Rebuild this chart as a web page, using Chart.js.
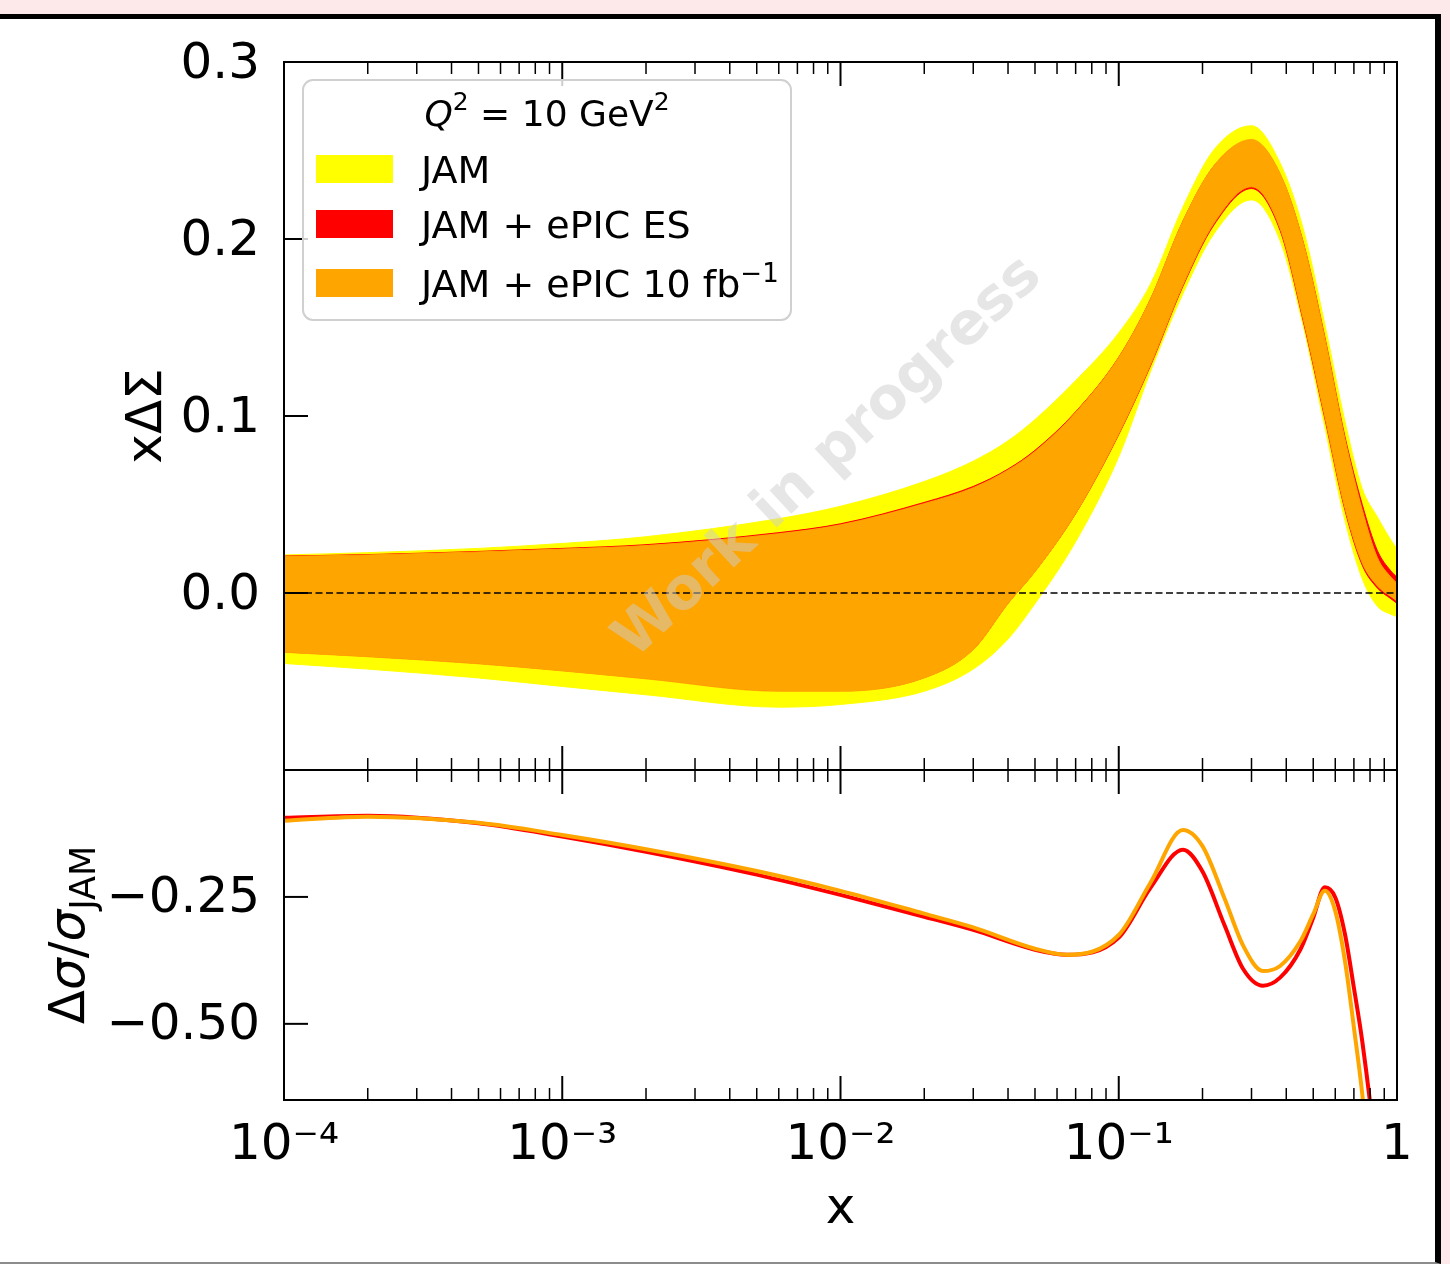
<!DOCTYPE html>
<html>
<head>
<meta charset="utf-8">
<script src="https://cdn.jsdelivr.net/npm/chart.js@4.4.1/dist/chart.umd.min.js"></script>
<style>
  html, body { margin: 0; padding: 0; }
  body { width: 1450px; height: 1264px; background: #fde9e9; position: relative; overflow: hidden; }
  #sheet {
    position: absolute; left: -10px; top: 14px; width: 1451px; height: 1250px;
    box-sizing: border-box; background: #fff;
    border-top: 5px solid #000; border-right: 6px solid #000; border-bottom: 2px solid #8c8c8c;
  }
  canvas { position: absolute; left: 0; }
  #pdf-chart { top: 0; }
  #ratio-chart { top: 740px; }
</style>
</head>
<body>
<div id="sheet"></div>
<canvas id="pdf-chart" width="1450" height="800"></canvas>
<canvas id="ratio-chart" width="1450" height="524"></canvas>
<script>
/* global Chart */
( function () {
	'use strict';

	// -----------------------------------------------------------------------
	// Data
	// -----------------------------------------------------------------------
	const X_TOP = [ 1e-4, 2e-4, 5e-4, 1e-3, 2e-3, 6e-3, 1e-2, 2e-2, 3e-2, 4e-2, 5e-2, 7e-2,
		0.1, 0.13, 0.17, 0.22, 0.3, 0.38, 0.46, 0.55, 0.65, 0.75, 0.85, 0.95, 1 ];

	// JAM band (yellow)
	const JAM_HI = [ 0.0215, 0.0228, 0.0252, 0.0280, 0.0318, 0.0420, 0.0490, 0.0630, 0.0745, 0.0860, 0.0980, 0.1200,
		0.1470, 0.1745, 0.2180, 0.2505, 0.2640, 0.2430, 0.2060, 0.1520, 0.0970, 0.0590, 0.0430, 0.0300, 0.0250 ];
	const JAM_LO = [ -0.0398, -0.0430, -0.0480, -0.0528, -0.0575, -0.0645, -0.0630, -0.0555, -0.0430, -0.0260, -0.0060, 0.0290,
		0.0770, 0.1250, 0.1690, 0.2030, 0.2221, 0.1990, 0.1510, 0.0940, 0.0410, 0.0080, -0.0075, -0.0120, -0.0133 ];

	// JAM + ePIC ES band (red)
	const ES_HI = [ 0.0209, 0.0217, 0.0235, 0.0252, 0.0273, 0.0341, 0.0391, 0.0512, 0.0602, 0.0700, 0.0806, 0.1024,
		0.1332, 0.1660, 0.2100, 0.2413, 0.2556, 0.2366, 0.1983, 0.1448, 0.0884, 0.0500, 0.0240, 0.0125, 0.0090 ];
	const ES_LO = [ -0.0333, -0.0357, -0.0397, -0.0437, -0.0481, -0.0551, -0.0551, -0.0478, -0.0318, -0.0058, 0.0122, 0.0449,
		0.0895, 0.1283, 0.1732, 0.2080, 0.2285, 0.2048, 0.1537, 0.0987, 0.0468, 0.0157, 0.0028, -0.0032, -0.0058 ];

	// JAM + ePIC 10 fb^-1 band (orange)
	const LUMI_HI = [ 0.0207, 0.0215, 0.0232, 0.0248, 0.0268, 0.0335, 0.0385, 0.0505, 0.0595, 0.0695, 0.0800, 0.1020,
		0.1330, 0.1660, 0.2100, 0.2415, 0.2562, 0.2370, 0.1980, 0.1440, 0.0870, 0.0470, 0.0200, 0.0090, 0.0055 ];
	const LUMI_LO = [ -0.0335, -0.0360, -0.0400, -0.0440, -0.0485, -0.0555, -0.0555, -0.0480, -0.0320, -0.0060, 0.0120, 0.0450,
		0.0900, 0.1290, 0.1740, 0.2090, 0.2295, 0.2060, 0.1550, 0.1000, 0.0480, 0.0170, 0.0040, -0.0020, -0.0045 ];

	const ZERO_X = [ 1e-4, 1 ];
	const ZERO_Y = [ 0, 0 ];

	// Ratio panel
	const X_RATIO = [ 1e-4, 2e-4, 5e-4, 1e-3, 2e-3, 5e-3, 1e-2, 2e-2, 3e-2, 5e-2, 6.5e-2,
		0.1, 0.13, 0.17, 0.2, 0.24, 0.28, 0.33, 0.38, 0.45, 0.5, 0.55, 0.6, 0.65, 0.7, 0.75, 0.85, 0.95 ];
	const LUMI_RATIO = [ -0.100, -0.092, -0.104, -0.128, -0.156, -0.199, -0.238, -0.283, -0.310, -0.352, -0.364,
		-0.325, -0.222, -0.118, -0.150, -0.253, -0.346, -0.396, -0.386, -0.337, -0.284, -0.238, -0.278, -0.376,
		-0.507, -0.638, -0.950, -1.300 ];
	const ES_RATIO = [ -0.094, -0.090, -0.105, -0.131, -0.161, -0.206, -0.246, -0.289, -0.315, -0.354, -0.364,
		-0.330, -0.232, -0.157, -0.200, -0.306, -0.392, -0.425, -0.409, -0.353, -0.291, -0.231, -0.251, -0.323,
		-0.429, -0.534, -0.780, -1.050 ];

	// Axes
	const X_TICKS = [ 1e-4, 1e-3, 1e-2, 1e-1, 1 ];
	const X_TICK_LABELS = [ '10⁻⁴', '10⁻³', '10⁻²', '10⁻¹', '1' ];
	const TOP_Y_TICKS = [ -0.1, 0, 0.1, 0.2, 0.3 ];
	const RATIO_Y_TICKS = [ -0.5, -0.25 ];

	const LEGEND_LABELS = [ 'JAM', 'JAM + ePIC ES', 'JAM + ePIC 10 fb' ];
	const LEGEND_SUPS = [ '', '', '−1' ];

	// -----------------------------------------------------------------------
	// Styling
	// -----------------------------------------------------------------------
	const YELLOW = '#ffff00';
	const RED    = '#ff0000';
	const ORANGE = '#ffa500';
	const FONT   = "'DejaVu Sans', sans-serif";
	const TICK_FONT = { family: FONT, size: 50 };

	Chart.defaults.font.family = FONT;
	Chart.defaults.color = '#000';

	const pts = ( xs, ys ) => xs.map( ( x, i ) => ( { x, y: ys[ i ] } ) );

	function band( lo, hi, color, label, order ) {
		return [
			{ data: pts( X_TOP, lo ), borderColor: color, borderWidth: 1, pointRadius: 0, fill: false, order },
			{ label, data: pts( X_TOP, hi ), borderColor: color, borderWidth: 1, pointRadius: 0,
				backgroundColor: color, fill: '-1', order },
		];
	}

	// text runs with mixed sizes / super- & subscripts along one baseline
	function richWidth( ctx, parts ) {
		let w = 0;
		parts.forEach( p => {
			ctx.font = ( p.italic ? 'italic ' : '' ) + p.size + 'px ' + FONT;
			w += ctx.measureText( p.t ).width;
		} );
		return w;
	}
	function drawRich( ctx, parts, x, y ) {
		ctx.textAlign = 'left';
		ctx.textBaseline = 'alphabetic';
		parts.forEach( p => {
			ctx.font = ( p.italic ? 'italic ' : '' ) + p.size + 'px ' + FONT;
			ctx.fillText( p.t, x, y + ( p.dy || 0 ) );
			x += ctx.measureText( p.t ).width;
		} );
	}

	// vertical axes: keep the tick-label overflow from shrinking the plot area
	const noLabelOverflow = s => {
		s.width = 284;
		s.paddingTop = 0;
		s.paddingBottom = 0;
	};

	// -----------------------------------------------------------------------
	// Plugins: inward ticks + frame, watermark, legend, ratio axis title
	// -----------------------------------------------------------------------
	const axisFrame = {
		id: 'axisFrame',
		afterDatasetsDraw( chart ) {
			const { ctx, chartArea: a, scales: { x, y } } = chart;
			const seg = ( x1, y1, x2, y2, w ) => {
				ctx.lineWidth = w;
				ctx.beginPath();
				ctx.moveTo( x1, y1 );
				ctx.lineTo( x2, y2 );
				ctx.stroke();
			};
			ctx.save();
			ctx.strokeStyle = '#000';
			for ( let e = -4; e <= 0; e++ ) {
				for ( let m = 1; m <= 9; m++ ) {
					const v = m * Math.pow( 10, e );
					if ( v > 1.0001 ) break;
					const px = x.getPixelForValue( v );
					const len = m === 1 ? 24 : 12;
					const w = m === 1 ? 2 : 1.5;
					seg( px, a.top, px, a.top + len, w );
					seg( px, a.bottom, px, a.bottom - len, w );
				}
			}
			y.ticks.forEach( t => {
				const py = y.getPixelForValue( t.value );
				seg( a.left, py, a.left + 24, py, 2 );
			} );
			ctx.lineWidth = 2;
			ctx.strokeRect( a.left, a.top, a.right - a.left, a.bottom - a.top );
			ctx.restore();
		},
	};

	const watermark = {
		id: 'watermark',
		afterDatasetsDraw( chart ) {
			const { ctx } = chart;
			ctx.save();
			ctx.translate( 829, 458 );
			ctx.rotate( -43 * Math.PI / 180 );
			ctx.font = 'bold 58px ' + FONT;
			ctx.fillStyle = 'rgba(205,205,205,0.5)';
			ctx.textAlign = 'center';
			ctx.textBaseline = 'middle';
			ctx.fillText( 'Work in progress', 0, 0 );
			ctx.restore();
		},
	};

	const boxLegend = {
		id: 'boxLegend',
		afterDraw( chart ) {
			const { ctx, chartArea: a } = chart;
			const bx = a.left + 19, by = a.top + 18, bw = 488, bh = 240, r = 10;
			ctx.save();
			ctx.beginPath();
			ctx.moveTo( bx + r, by );
			ctx.arcTo( bx + bw, by, bx + bw, by + bh, r );
			ctx.arcTo( bx + bw, by + bh, bx, by + bh, r );
			ctx.arcTo( bx, by + bh, bx, by, r );
			ctx.arcTo( bx, by, bx + bw, by, r );
			ctx.closePath();
			ctx.fillStyle = 'rgba(255,255,255,0.8)';
			ctx.fill();
			ctx.strokeStyle = '#d0d0d0';
			ctx.lineWidth = 2;
			ctx.stroke();

			ctx.fillStyle = '#000';
			const title = [
				{ t: 'Q', size: 36, italic: true },
				{ t: '2', size: 25, dy: -16 },
				{ t: ' = 10 GeV', size: 36 },
				{ t: '2', size: 25, dy: -16 },
			];
			const tw = richWidth( ctx, title );
			drawRich( ctx, title, bx + bw / 2 - tw / 2, by + 46 );

			const colors = [ YELLOW, RED, ORANGE ];
			const baselines = [ 103, 158, 217 ];
			LEGEND_LABELS.forEach( ( label, i ) => {
				const base = by + baselines[ i ];
				ctx.fillStyle = colors[ i ];
				ctx.fillRect( bx + 13, base - 28, 77, 28 );
				ctx.fillStyle = '#000';
				const parts = [ { t: label, size: 38 } ];
				if ( LEGEND_SUPS[ i ] ) parts.push( { t: LEGEND_SUPS[ i ], size: 26, dy: -15 } );
				drawRich( ctx, parts, bx + 118, base );
			} );
			ctx.restore();
		},
	};

	const ratioTitle = {
		id: 'ratioTitle',
		afterDraw( chart ) {
			const { ctx, chartArea: a } = chart;
			const parts = [
				{ t: 'Δ', size: 50 },
				{ t: 'σ', size: 50, italic: true },
				{ t: '/', size: 50 },
				{ t: 'σ', size: 50, italic: true },
				{ t: 'JAM', size: 35, dy: 11 },
			];
			ctx.save();
			ctx.fillStyle = '#000';
			ctx.translate( 66, ( a.top + a.bottom ) / 2 );
			ctx.rotate( -Math.PI / 2 );
			const w = richWidth( ctx, parts );
			drawRich( ctx, parts, -w / 2, 18 );
			ctx.restore();
		},
	};

	const logX = {
		type: 'logarithmic',
		min: 1e-4,
		max: 1,
		afterBuildTicks: s => { s.ticks = X_TICKS.map( v => ( { value: v } ) ); },
		grid: { display: false, drawTicks: false },
		border: { display: false },
	};

	// -----------------------------------------------------------------------
	// Upper panel: x*Delta Sigma bands
	// -----------------------------------------------------------------------
	new Chart( document.getElementById( 'pdf-chart' ), {
		type: 'line',
		data: {
			datasets: [
				{ label: 'zero', data: pts( ZERO_X, ZERO_Y ), borderColor: '#000', borderWidth: 1.5,
					borderDash: [ 7, 3.5 ], pointRadius: 0, fill: false, order: 0 },
				...band( LUMI_LO, LUMI_HI, ORANGE, LEGEND_LABELS[ 2 ], 1 ),
				...band( ES_LO, ES_HI, RED, LEGEND_LABELS[ 1 ], 2 ),
				...band( JAM_LO, JAM_HI, YELLOW, LEGEND_LABELS[ 0 ], 3 ),
			],
		},
		options: {
			responsive: false,
			animation: false,
			devicePixelRatio: 1,
			events: [],
			layout: { padding: { top: 62, bottom: 30, left: 0, right: 53 } },
			elements: { line: { cubicInterpolationMode: 'monotone' } },
			plugins: { legend: { display: false }, tooltip: { enabled: false } },
			scales: {
				x: { ...logX, display: false },
				y: {
					min: -0.1,
					max: 0.3,
					afterBuildTicks: s => { s.ticks = TOP_Y_TICKS.map( v => ( { value: v } ) ); },
					afterFit: noLabelOverflow,
					ticks: { font: TICK_FONT, padding: 24, labelOffset: 3,
						callback: v => ( v < -0.05 ? '' : v.toFixed( 1 ) ) },
					grid: { display: false, drawTicks: false },
					border: { display: false },
					title: { display: true, text: 'xΔΣ', font: { size: 50 }, padding: { top: 118, bottom: 0 } },
				},
			},
		},
		plugins: [ axisFrame, watermark, boxLegend ],
	} );

	// -----------------------------------------------------------------------
	// Lower panel: relative uncertainty change
	// -----------------------------------------------------------------------
	new Chart( document.getElementById( 'ratio-chart' ), {
		type: 'line',
		data: {
			datasets: [
				{ label: LEGEND_LABELS[ 2 ], data: pts( X_RATIO, LUMI_RATIO ), borderColor: ORANGE,
					borderWidth: 4, pointRadius: 0, fill: false, order: 1, clip: 0 },
				{ label: LEGEND_LABELS[ 1 ], data: pts( X_RATIO, ES_RATIO ), borderColor: RED,
					borderWidth: 4, pointRadius: 0, fill: false, order: 2, clip: 0 },
			],
		},
		options: {
			responsive: false,
			animation: false,
			devicePixelRatio: 1,
			events: [],
			layout: { padding: { top: 30, bottom: 0, left: 0, right: 53 } },
			elements: { line: { cubicInterpolationMode: 'monotone' } },
			plugins: { legend: { display: false }, tooltip: { enabled: false } },
			scales: {
				x: {
					...logX,
					afterFit: s => { s.height = 164; },
					ticks: {
						font: TICK_FONT,
						padding: 16,
						maxRotation: 0,
						autoSkip: false,
						callback: v => X_TICK_LABELS[ X_TICKS.indexOf( v ) ],
					},
					title: { display: true, text: 'x', font: { size: 50 }, padding: { top: 0, bottom: 24 } },
				},
				y: {
					min: -0.65,
					max: 0,
					afterBuildTicks: s => { s.ticks = RATIO_Y_TICKS.map( v => ( { value: v } ) ); },
					afterFit: noLabelOverflow,
					ticks: { font: TICK_FONT, padding: 24, labelOffset: 2,
						callback: v => '−' + Math.abs( v ).toFixed( 2 ) },
					grid: { display: false, drawTicks: false },
					border: { display: false },
				},
			},
		},
		plugins: [ axisFrame, ratioTitle ],
	} );

} )();
</script>
</body>
</html>
